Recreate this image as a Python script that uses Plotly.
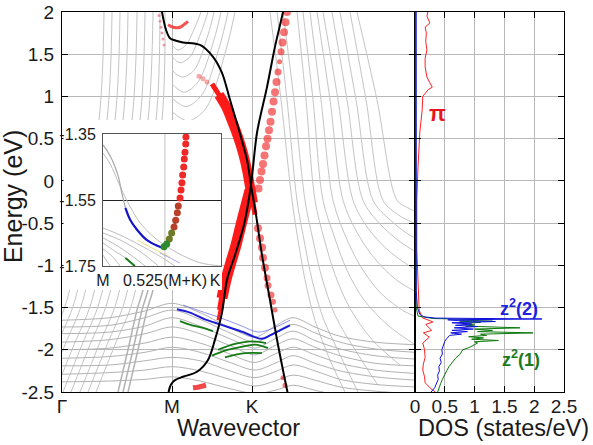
import plotly.graph_objects as go

# ---------------- axis values ----------------
K_TICKS = [0.0, 1.10, 1.90]
K_TEXT = ["Γ", "M", "K"]
K_MAX = 3.53
E_RANGE = [-2.5, 2.0]
E_TICKS = [-2.5, -2, -1.5, -1, -0.5, 0, 0.5, 1, 1.5, 2]
E_TEXT = ["-2.5", "-2", "-1.5", "-1", "-0.5", "0", "0.5", "1", "1.5", "2"]
DOS_TICKS = [0, 0.5, 1, 1.5, 2, 2.5]
DOS_TEXT = ["0", "0.5", "1", "1.5", "2", "2.5"]
IN_K_TICKS = [0.0, 0.525, 0.95]
IN_K_TEXT = ["M", "0.525(M+K)", "K"]
IN_E_TICKS = [-1.75, -1.55, -1.35]
IN_E_TEXT = ["-1.75", "-1.55", "-1.35"]

# ---------------- gray background bands ----------------
GM_E = [-2.5, -1.94, -1.41, 0.72, 2.0]
GM_K = [
    [-0.32, -0.13, 0.05, 0.37, 0.42],
    [-0.24, -0.05, 0.13, 0.45, 0.50],
    [-0.16, 0.03, 0.21, 0.53, 0.58],
    [-0.07, 0.12, 0.30, 0.61, 0.66],
    [0.01, 0.20, 0.38, 0.70, 0.75],
    [0.09, 0.28, 0.46, 0.78, 0.83],
    [0.18, 0.37, 0.55, 0.86, 0.91],
    [0.26, 0.45, 0.63, 0.94, 0.98],
    [0.34, 0.53, 0.71, 1.00, 1.03],
]
FAN_K = [
    [1.10, 1.16, 1.24, 1.34, 1.39],
    [1.10, 1.18, 1.28, 1.40, 1.46],
    [1.10, 1.20, 1.32, 1.46, 1.52],
    [1.10, 1.22, 1.36, 1.52, 1.59],
    [1.10, 1.24, 1.40, 1.58, 1.66],
    [1.10, 1.26, 1.44, 1.64, 1.73],
]
FAN_E = [
    [1.61, 1.55, 1.61, 1.85, 2.00],
    [1.47, 1.40, 1.47, 1.79, 2.00],
    [1.31, 1.23, 1.31, 1.73, 2.00],
    [1.15, 1.05, 1.17, 1.67, 2.00],
    [0.98, 0.88, 1.02, 1.61, 2.00],
    [0.82, 0.71, 0.86, 1.55, 2.00],
]
RK_K = [
    [2.08, 2.19, 2.30, 2.36, 2.43, 2.53, 2.68, 2.83],
    [2.15, 2.25, 2.35, 2.42, 2.50, 2.61, 2.78, 2.96],
    [2.21, 2.32, 2.43, 2.51, 2.60, 2.73, 2.93, 3.16],
    [2.35, 2.44, 2.53, 2.62, 2.73, 2.88, 3.10, 3.38],
    [2.41, 2.51, 2.61, 2.72, 2.85, 3.02, 3.26, 3.53],
    [2.48, 2.59, 2.71, 2.83, 2.98, 3.18, 3.43, 3.58],
    [2.55, 2.68, 2.81, 2.95, 3.12, 3.34, 3.58],
    [2.61, 2.76, 2.91, 3.06, 3.26, 3.48, 3.58],
    [2.70, 2.85, 3.01, 3.18, 3.38, 3.58],
    [2.78, 2.94, 3.11, 3.28, 3.46, 3.58],
    [2.88, 3.04, 3.21, 3.36, 3.50, 3.58],
    [2.95, 3.15, 3.35, 3.46, 3.58],
]
RK_E = [
    [2.00, 0.96, -0.23, -0.70, -1.17, -1.65, -2.12, -2.50],
    [2.00, 0.96, -0.23, -0.70, -1.17, -1.62, -2.06, -2.50],
    [2.00, 0.96, -0.23, -0.70, -1.15, -1.59, -2.00, -2.42],
    [2.00, 0.96, -0.23, -0.68, -1.11, -1.51, -1.88, -2.18],
    [2.00, 0.96, -0.23, -0.65, -1.06, -1.41, -1.71, -1.94],
    [2.00, 0.96, -0.23, -0.64, -1.00, -1.32, -1.55, -1.62],
    [2.00, 0.96, -0.23, -0.61, -0.91, -1.17, -1.34],
    [2.00, 0.96, -0.23, -0.56, -0.82, -1.01, -1.07],
    [2.00, 0.96, -0.23, -0.51, -0.72, -0.87],
    [2.00, 0.96, -0.23, -0.46, -0.63, -0.70],
    [2.00, 0.96, -0.23, -0.40, -0.49, -0.53],
    [2.00, 0.96, -0.23, -0.32, -0.39],
]
LOW_K = [0.0, 0.48, 0.83, 1.10, 1.38, 1.68, 1.93, 2.13, 2.31, 2.53, 2.78, 3.13, 3.53]
LOW_E = [
    [-1.65, -1.62, -1.54, -1.45, -1.56, -1.74, -1.85, -1.72, -1.62, -1.73, -1.84, -1.91, -1.94],
    [-1.73, -1.71, -1.62, -1.53, -1.64, -1.80, -1.91, -1.79, -1.70, -1.80, -1.91, -1.99, -2.03],
    [-1.81, -1.79, -1.72, -1.62, -1.72, -1.87, -1.98, -1.87, -1.78, -1.89, -1.99, -2.07, -2.11],
    [-1.91, -1.88, -1.81, -1.73, -1.81, -1.95, -2.06, -1.95, -1.87, -1.97, -2.07, -2.16, -2.19],
    [-2.00, -1.98, -1.92, -1.85, -1.92, -2.05, -2.15, -2.05, -1.97, -2.06, -2.16, -2.24, -2.28],
    [-2.10, -2.08, -2.03, -1.97, -2.03, -2.15, -2.24, -2.16, -2.07, -2.16, -2.25, -2.32, -2.36],
    [-2.19, -2.18, -2.13, -2.09, -2.13, -2.25, -2.33, -2.26, -2.18, -2.25, -2.35, -2.41, -2.44],
    [-2.29, -2.27, -2.24, -2.20, -2.25, -2.35, -2.43, -2.37, -2.30, -2.36, -2.44, -2.49, -2.52],
    [-2.38, -2.37, -2.35, -2.32, -2.37, -2.46, -2.52, -2.48, -2.42, -2.48, -2.54, -2.57, -2.59],
]
STEEP_E = [-2.5, -2.0, -1.53, -1.29, -0.82]
STEEP_K = [
    [0.56, 0.66, 0.75, 0.81, 0.88],
    [0.61, 0.71, 0.80, 0.86, 0.93],
    [0.66, 0.76, 0.85, 0.91, 0.98],
]

# ---------------- z2 projected bands ----------------
BLUE1_K = [1.15, 1.28, 1.43, 1.53, 1.66, 1.81, 1.93, 2.00, 2.08, 2.18, 2.28]
BLUE1_E = [-1.52, -1.56, -1.64, -1.68, -1.73, -1.79, -1.85, -1.87, -1.83, -1.77, -1.71]
BLUE2_K = [1.21, 1.38, 1.58, 1.78, 1.96, 2.10, 2.28]
BLUE2_E = [-1.47, -1.54, -1.62, -1.71, -1.79, -1.75, -1.65]
GREEN_K = [
    [1.18, 1.30, 1.41, 1.51],
    [1.50, 1.63, 1.78, 1.93, 2.06],
    [1.56, 1.73, 1.90, 2.04],
    [1.63, 1.83, 2.00],
]
GREEN_E = [
    [-1.66, -1.71, -1.74, -1.78],
    [-2.07, -2.01, -1.97, -1.94, -1.98],
    [-2.00, -1.93, -1.90, -1.92],
    [-2.09, -2.04, -2.04],
]

# ---------------- pi projected (fat) bands ----------------
RA_K = [1.50, 1.57, 1.64, 1.70, 1.76, 1.81, 1.85, 1.88, 1.91, 1.93]
RA_E = [1.15, 1.02, 0.88, 0.71, 0.52, 0.33, 0.13, -0.07, -0.26, -0.40]
RA_LEAD_K = [1.37, 1.41, 1.45]
RA_LEAD_E = [1.24, 1.21, 1.17]
RB_K = [1.88, 1.84, 1.79, 1.74, 1.69, 1.64, 1.60, 1.58, 1.56]
RB_E = [-0.11, -0.29, -0.52, -0.76, -0.96, -1.17, -1.39, -1.53, -1.65]
RDOT1_K = [2.25, 2.235, 2.22, 2.205, 2.19, 2.175, 2.16, 2.145, 2.13, 2.115,
           2.10, 2.085, 2.07, 2.055, 2.04, 2.025, 2.01, 1.995, 1.98, 1.965]
RDOT1_E = [2.00, 1.88, 1.76, 1.64, 1.53, 1.41, 1.29, 1.17, 1.05, 0.94,
           0.82, 0.70, 0.60, 0.50, 0.41, 0.30, 0.20, 0.11, 0.01, -0.09]
RDOT1_S = [8, 8, 8, 8, 7, 5, 7, 8, 8, 8, 8, 8, 8, 8, 8, 8, 8, 8, 8, 8]
RDOT2_K = [1.96, 1.98, 2.00, 2.01, 2.03, 2.05, 2.06, 2.09, 2.11, 2.13, 2.21, 2.23]
RDOT2_E = [-0.56, -0.68, -0.79, -0.91, -1.03, -1.15, -1.24, -1.35, -1.43, -1.53, -2.33, -2.42]
RDOT2_S = [8, 8, 8, 8, 8, 7, 7, 7, 6, 5, 5, 5]
RARC_K = [1.06, 1.11, 1.18, 1.23, 1.26]
RARC_E = [1.85, 1.82, 1.82, 1.86, 1.89]
PINK_K = [0.97, 0.98, 0.99, 1.00, 1.01, 1.02]
PINK_E = [1.96, 1.89, 1.82, 1.75, 1.68, 1.61]
RBOT_K = [1.31, 1.37, 1.44]
RBOT_E = [-2.45, -2.44, -2.42]

# ---------------- black (unprojected) bands ----------------
BLKA_K = [0.99, 1.00, 1.04, 1.08, 1.14, 1.21, 1.38, 1.51, 1.60, 1.68, 1.76, 1.85,
          1.89, 1.94, 2.00, 2.08, 2.15, 2.22, 2.27]
BLKA_E = [2.08, 2.00, 1.79, 1.69, 1.66, 1.64, 1.61, 1.47, 1.28, 0.96, 0.64, 0.25,
          -0.05, -0.40, -0.88, -1.41, -1.88, -2.30, -2.59]
BLKB_K = [2.23, 2.21, 2.13, 2.05, 1.95, 1.89, 1.82, 1.73, 1.65, 1.60, 1.53, 1.46,
          1.35, 1.21, 1.13, 1.09, 1.07, 1.06]
BLKB_E = [2.14, 2.00, 1.59, 1.11, 0.57, -0.05, -0.52, -0.88, -1.17, -1.56, -1.88, -2.12,
          -2.26, -2.32, -2.36, -2.41, -2.48, -2.59]

# ---------------- inset ----------------
IN_GRAY_K = [0.0, 0.03, 0.08, 0.13, 0.16, 0.19]
IN_GRAY_E = [-1.383, -1.398, -1.43, -1.479, -1.53, -1.574]
IN_BLUE_K = [0.19, 0.23, 0.29, 0.37, 0.46, 0.511]
IN_BLUE_E = [-1.574, -1.61, -1.641, -1.671, -1.689, -1.696]
IN_GREEN_K = [0.511, 0.54, 0.562, 0.582, 0.602, 0.616]
IN_GREEN_E = [-1.696, -1.683, -1.668, -1.650, -1.632, -1.611]
IN_DOT_K = [0.703, 0.701, 0.695, 0.689, 0.684, 0.675, 0.669, 0.661, 0.653,
            0.638, 0.630, 0.616, 0.602, 0.582, 0.562, 0.540, 0.517]
IN_DOT_E = [-1.359, -1.380, -1.405, -1.426, -1.450, -1.474, -1.498, -1.520, -1.544,
            -1.568, -1.589, -1.611, -1.632, -1.650, -1.668, -1.683, -1.692]
IN_DOT_C = ["#f02828"] * 9 + ["#b8402a"] * 4 + ["#6e7a26"] * 2 + ["#2e8a2e"] * 2
IN_LINES_K = [
    [0.0, 0.06, 0.14, 0.20, 0.31, 0.44, 0.63, 0.82, 1.0],
    [0.0, 0.144, 0.31, 0.48, 0.61],
    [0.0, 0.144, 0.31, 0.47],
    [0.0, 0.127, 0.27, 0.356],
    [0.0, 0.10, 0.21, 0.27],
    [0.0, 0.076, 0.144],
    [0.0, 0.06],
]
IN_LINES_E = [
    [-1.408, -1.44, -1.505, -1.55, -1.617, -1.665, -1.71, -1.74, -1.75],
    [-1.635, -1.656, -1.686, -1.72, -1.75],
    [-1.65, -1.671, -1.705, -1.75],
    [-1.665, -1.69, -1.726, -1.75],
    [-1.68, -1.705, -1.73, -1.75],
    [-1.698, -1.72, -1.75],
    [-1.717, -1.75],
]
IN_DKGREEN_K = [0.19, 0.23, 0.27]
IN_DKGREEN_E = [-1.726, -1.738, -1.75]
IN_YELLOW_K = [0.29, 0.44, 0.57]
IN_YELLOW_E = [-1.671, -1.70, -1.723]
IN_LTBLUE_K = [0.48, 0.57, 0.65]
IN_LTBLUE_E = [-1.71, -1.726, -1.741]

# ---------------- DOS ----------------
PI_E = [2.02, 1.95, 1.87, 1.82, 1.75, 1.65, 1.55, 1.45, 1.35, 1.23, 1.16, 1.11, 1.08, 1.00,
        0.84, 0.57, 0.16, -0.23, -0.82, -1.29, -1.53, -1.62, -1.65, -1.67, -1.70, -1.73,
        -1.77, -1.80, -1.85, -1.92, -2.00, -2.09, -2.17, -2.24, -2.32, -2.39, -2.45, -2.50]
PI_D = [0.22, 0.20, 0.25, 0.17, 0.19, 0.18, 0.20, 0.17, 0.17, 0.20, 0.25, 0.29, 0.22, 0.13,
        0.12, 0.08, 0.05, 0.03, 0.03, 0.05, 0.07, 0.12, 0.25, 0.30, 0.18, 0.22,
        0.28, 0.14, 0.24, 0.13, 0.16, 0.17, 0.14, 0.13, 0.16, 0.17, 0.25, 0.34]
Z2_E = [2.0, -1.3, -1.5, -1.58, -1.61, -1.625, -1.635, -1.645, -1.655, -1.665, -1.68, -1.695,
        -1.71, -1.725, -1.74, -1.755, -1.77, -1.785, -1.80, -1.815, -1.83, -1.85, -1.87, -1.9,
        -1.95, -2.0, -2.05, -2.1, -2.15, -2.2, -2.25, -2.3, -2.35, -2.4, -2.45, -2.5]
Z2_D = [0.02, 0.02, 0.04, 0.08, 0.15, 0.35, 2.13, 0.55, 0.72, 1.35, 0.62, 0.95,
        0.68, 1.05, 0.66, 0.98, 0.62, 0.88, 0.60, 0.78, 0.58, 0.55, 0.53, 0.50,
        0.47, 0.45, 0.46, 0.42, 0.44, 0.40, 0.41, 0.38, 0.39, 0.36, 0.33, 0.27]
Z1_E = [2.0, -1.5, -1.6, -1.63, -1.645, -1.66, -1.675, -1.69, -1.705, -1.72, -1.74, -1.755,
        -1.77, -1.785, -1.80, -1.815, -1.83, -1.845, -1.86, -1.875, -1.89, -1.905, -1.92,
        -1.945, -1.97, -2.0, -2.05, -2.1, -2.15, -2.2, -2.25, -2.3, -2.35, -2.4, -2.45, -2.5]
Z1_D = [0.01, 0.02, 0.05, 0.3, 1.3, 0.75, 1.1, 0.8, 1.0, 0.85, 1.76, 1.0,
        1.3, 1.05, 1.98, 1.1, 1.2, 0.9, 1.15, 0.95, 1.4, 1.0, 1.05,
        0.98, 0.92, 0.8, 0.76, 0.68, 0.62, 0.57, 0.53, 0.49, 0.46, 0.43, 0.41, 0.38]

# ---------------- style ----------------
FONT = "Liberation Sans, Arial, sans-serif"
GRID = "#b8b8b8"
GRAY = "#c4c4c4"
GRAY_LOW = "#b2b2b2"
RED = "#ff1a1a"
RED_DOT = "rgba(240,35,35,0.9)"
BLUE = "#1c1cd6"
GREEN = "#167a16"

fig = go.Figure()


def add_line(x, y, color, width, xa="x", ya="y", shape="spline", opacity=1.0):
    fig.add_trace(go.Scatter(x=x, y=y, mode="lines", xaxis=xa, yaxis=ya,
                             line=dict(color=color, width=width, shape=shape, smoothing=0.9),
                             opacity=opacity, hoverinfo="skip"))


def add_dots(x, y, color, size, xa="x", ya="y"):
    fig.add_trace(go.Scatter(x=x, y=y, mode="markers", xaxis=xa, yaxis=ya,
                             marker=dict(color=color, size=size, line=dict(width=0)),
                             hoverinfo="skip"))


for ks in GM_K:
    add_line(ks, GM_E, GRAY, 1)
for ks, es in zip(FAN_K, FAN_E):
    add_line(ks, es, GRAY, 1)
for ks, es in zip(RK_K, RK_E):
    add_line(ks, es, GRAY, 1)
for es in LOW_E:
    add_line(LOW_K, es, GRAY_LOW, 1)
for ks in STEEP_K:
    add_line(ks, STEEP_E, GRAY_LOW, 1.5)

add_line(BLUE2_K, BLUE2_E, "rgba(60,60,230,0.55)", 1)
add_line(BLUE1_K, BLUE1_E, BLUE, 2)
for ks, es in zip(GREEN_K, GREEN_E):
    add_line(ks, es, GREEN, 1.8)

add_dots(RA_LEAD_K, RA_LEAD_E, "rgba(240,60,60,0.45)", 5)
add_line(RA_K, RA_E, RED, 5)
add_line(RA_K[1:9], RA_E[1:9], RED, 10)
add_line(RB_K, RB_E, RED, 3)
add_line(RB_K[:8], RB_E[:8], RED, 6)
add_line(RB_K[:7], RB_E[:7], RED, 11)
add_dots(RDOT1_K, RDOT1_E, RED_DOT, RDOT1_S)
add_dots(RDOT2_K, RDOT2_E, RED_DOT, RDOT2_S)
add_line(RARC_K, RARC_E, "rgba(240,40,40,0.8)", 3)
add_dots(PINK_K, PINK_E, "rgba(230,90,110,0.6)", 3)
add_line(RBOT_K, RBOT_E, "rgba(240,40,40,0.85)", 5)

add_line(BLKA_K, BLKA_E, "black", 2)
add_line(BLKB_K, BLKB_E, "black", 2)

add_line(PI_D, PI_E, "#ff2020", 1, xa="x2", ya="y2", shape="linear")
add_line(Z1_D, Z1_E, "#0c780c", 1, xa="x2", ya="y2", shape="linear")
add_line(Z2_D, Z2_E, "#1010e0", 1, xa="x2", ya="y2", shape="linear")

# white box behind the inset (empty subplot)
fig.add_trace(go.Scatter(x=[], y=[], xaxis="x3", yaxis="y3", hoverinfo="skip"))

for ks, es in zip(IN_LINES_K, IN_LINES_E):
    add_line(ks, es, "#bdbdbd", 1, xa="x4", ya="y4")
add_line(IN_YELLOW_K, IN_YELLOW_E, "rgba(225,215,90,0.8)", 1, xa="x4", ya="y4")
add_line(IN_LTBLUE_K, IN_LTBLUE_E, "rgba(110,110,230,0.6)", 1, xa="x4", ya="y4")
add_line(IN_DKGREEN_K, IN_DKGREEN_E, GREEN, 2, xa="x4", ya="y4")
add_line(IN_GRAY_K, IN_GRAY_E, "#a8a8a8", 1.2, xa="x4", ya="y4")
add_line(IN_BLUE_K, IN_BLUE_E, "#1414c8", 2.2, xa="x4", ya="y4")
add_line(IN_GREEN_K, IN_GREEN_E, "#1f8a1f", 2.2, xa="x4", ya="y4")
add_dots(IN_DOT_K, IN_DOT_E, IN_DOT_C, 7, xa="x4", ya="y4")

MAIN_W = 0.7032
axis_common = dict(showline=True, linecolor="black", linewidth=1, mirror="ticks",
                   ticks="inside", tickcolor="black", ticklen=6, zeroline=False,
                   gridcolor=GRID, gridwidth=1, automargin=False,
                   tickfont=dict(size=19, color="#1a1a1a"))

fig.update_layout(
    width=593, height=445,
    margin=dict(l=62, r=29, t=12, b=53, autoexpand=False),
    paper_bgcolor="white", plot_bgcolor="white",
    showlegend=False,
    font=dict(family=FONT, size=18, color="#1a1a1a"),
    xaxis=dict(domain=[0, MAIN_W], range=[0, K_MAX], tickvals=K_TICKS, ticktext=K_TEXT,
               anchor="y", showgrid=True, ticklabelstandoff=-3, **axis_common),
    yaxis=dict(domain=[0, 1], range=E_RANGE, tickvals=E_TICKS, ticktext=E_TEXT,
               anchor="x", showgrid=True, ticklabelstandoff=3, **axis_common),
    xaxis2=dict(domain=[MAIN_W, 1], range=[0, 2.5], tickvals=DOS_TICKS, ticktext=DOS_TEXT,
                anchor="y2", showgrid=True, ticklabelstandoff=-3, **axis_common),
    yaxis2=dict(domain=[0, 1], range=E_RANGE, tickvals=E_TICKS, showticklabels=False,
                anchor="x2", showgrid=True, **axis_common),
    xaxis3=dict(domain=[0.003, 0.3187], range=[0, 1], anchor="y3", visible=False,
                automargin=False),
    yaxis3=dict(domain=[0.2684, 0.7158], range=[0, 1], anchor="x3", visible=False,
                automargin=False),
    xaxis4=dict(domain=[0.0817, 0.3167], range=[0, 1], anchor="y4", tickvals=IN_K_TICKS,
                ticktext=IN_K_TEXT, showgrid=False, showline=True, mirror=True,
                linecolor="#555555", linewidth=1, ticks="", zeroline=False, automargin=False,
                tickfont=dict(size=16, color="#1a1a1a")),
    yaxis4=dict(domain=[0.3316, 0.6789], range=[-1.75, -1.35], anchor="x4",
                tickvals=IN_E_TICKS, ticktext=IN_E_TEXT, showgrid=True, gridcolor="#222222",
                showline=True, mirror=True, linecolor="#555555", linewidth=1, ticks="",
                zeroline=False, ticklabelstandoff=3, automargin=False,
                tickfont=dict(size=16, color="#1a1a1a")),
    shapes=[dict(type="line", xref="x4", yref="y4", x0=0.525, x1=0.525, y0=-1.75, y1=-1.35,
                 line=dict(color="#c0c0c0", width=1), layer="below")],
    annotations=[
        dict(text="Energy (eV)", xref="paper", yref="paper", x=-0.098, y=0.515, textangle=-90,
             showarrow=False, font=dict(size=25), xanchor="center", yanchor="middle"),
        dict(text="Wavevector", xref="paper", yref="paper", x=0.3506, y=-0.094,
             showarrow=False, font=dict(size=23.5), xanchor="center", yanchor="middle"),
        dict(text="DOS (states/eV)", xref="paper", yref="paper", x=0.880, y=-0.094,
             showarrow=False, font=dict(size=23.5), xanchor="center", yanchor="middle"),
        dict(text="<b>π</b>", xref="x2", yref="y2", x=0.37, y=0.80, showarrow=False,
             font=dict(size=22, color="#e8141e")),
        dict(text="<b>z<sup>2</sup>(2)</b>", xref="x2", yref="y2", x=1.745, y=-1.50,
             showarrow=False, font=dict(size=18, color="#1f1fe0")),
        dict(text="<b>z<sup>2</sup>(1)</b>", xref="x2", yref="y2", x=1.78, y=-2.10,
             showarrow=False, font=dict(size=18, color="#1a7a1a")),
    ],
)

fig.write_html("out.html", config={"displayModeBar": False},
               post_script="document.body.style.margin='0px';")
